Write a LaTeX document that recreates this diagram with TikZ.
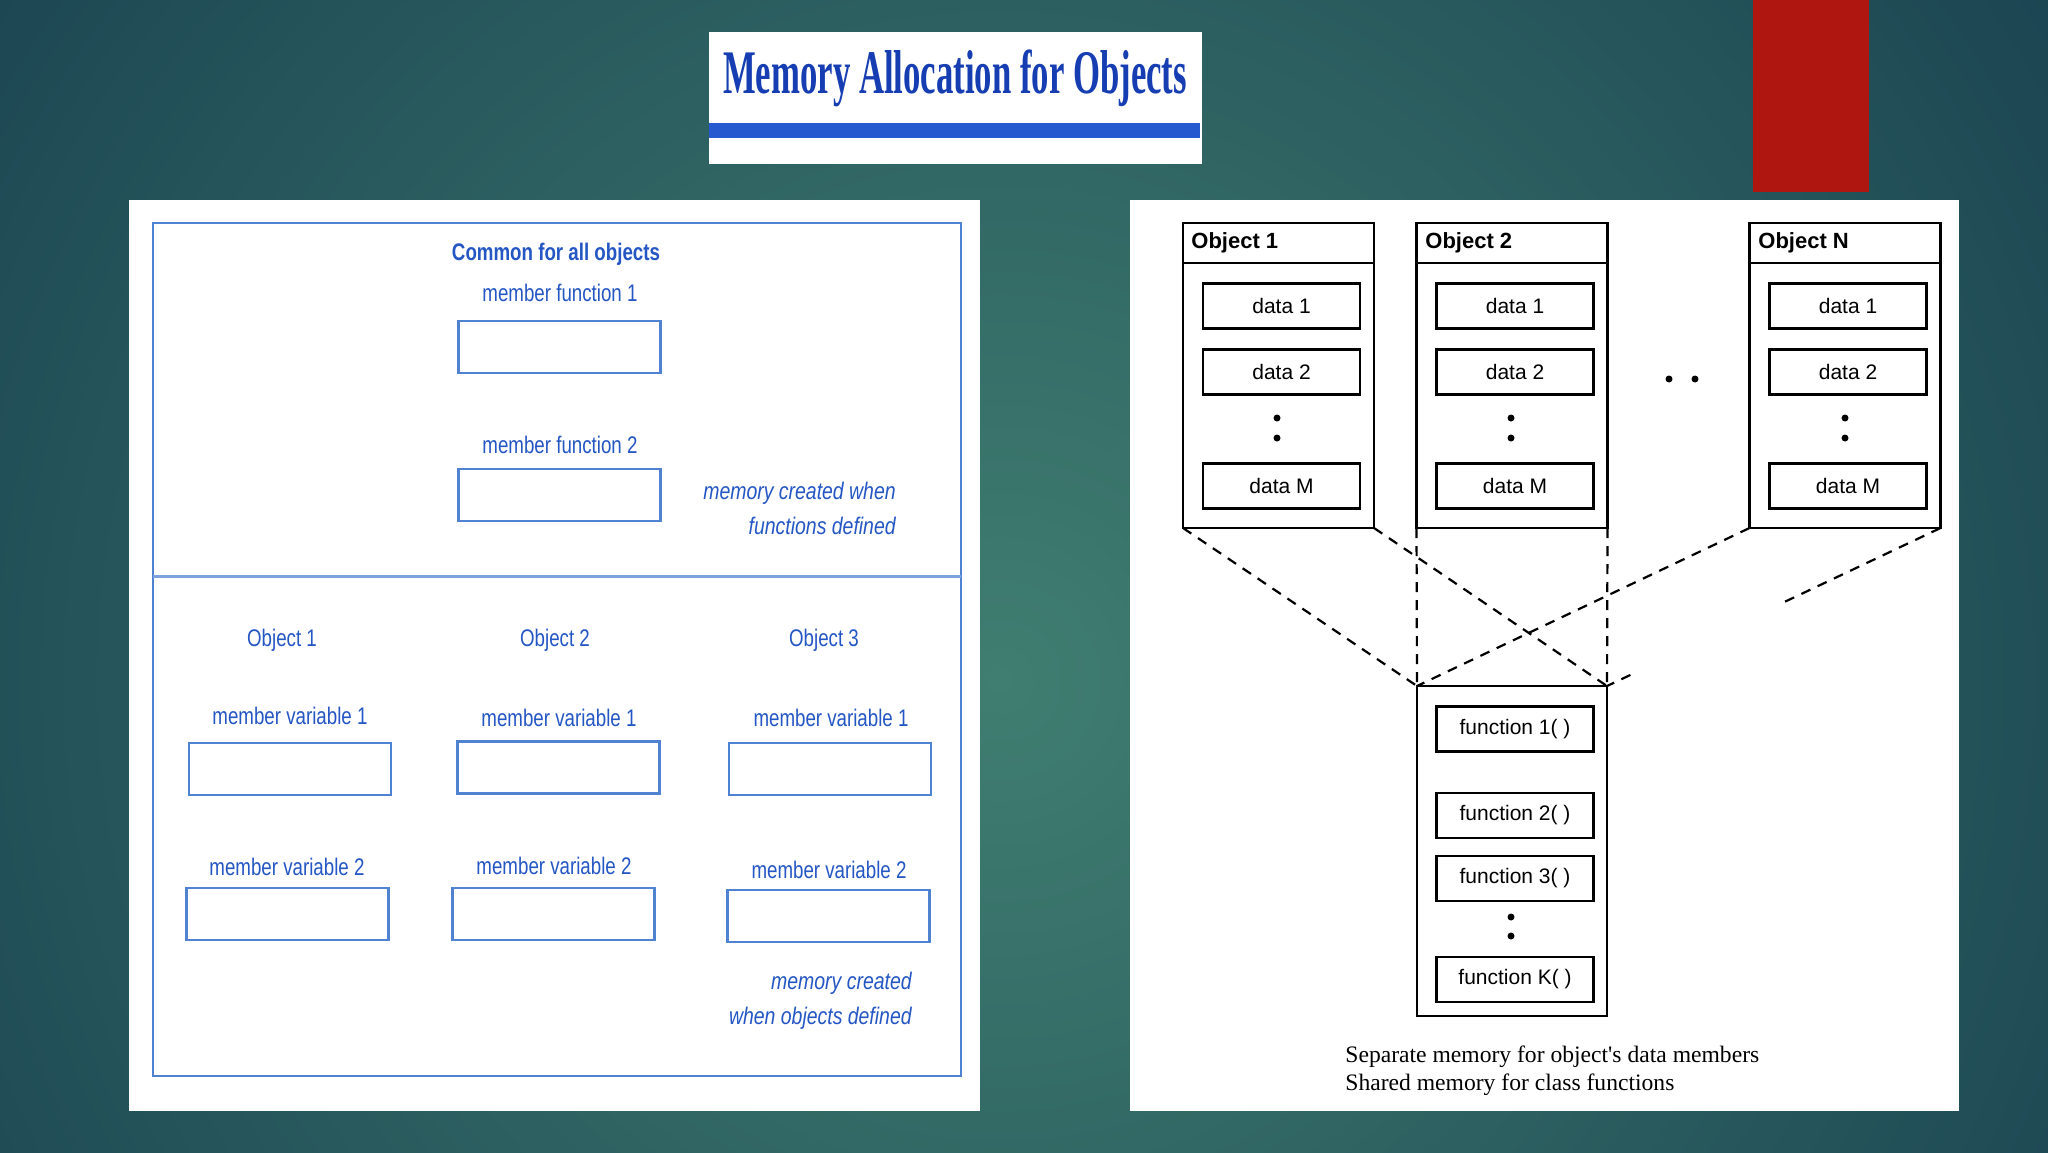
\documentclass[tikz,border=0pt]{standalone}
\usepackage{fontspec}
\setmainfont{Liberation Sans}
\newfontfamily\seriffont{Liberation Serif}
\usetikzlibrary{calc}
\newdimen\px \px=0.5pt
\definecolor{bgin}{RGB}{64,126,113}
\definecolor{bgout}{RGB}{20,58,76}
\definecolor{titleblue}{RGB}{22,62,178}
\definecolor{barblue}{RGB}{38,88,208}
\definecolor{tblue}{RGB}{36,86,196}
\definecolor{lblue}{RGB}{80,130,210}
\definecolor{redbar}{RGB}{176,22,16}
\tikzset{
 lbox/.style={draw=lblue, line width=1.1pt, minimum width=202\px, minimum height=52\px, inner sep=0pt, outer sep=0pt},
 llabel/.style={text=tblue, font=\fontsize{12}{14}\selectfont, xscale=0.78, inner sep=0pt},
 lnote/.style={text=tblue, font=\fontsize{12}{17.5}\selectfont\itshape, xscale=0.81, inner sep=0pt, align=right, anchor=east},
 objcol/.style={draw=black, line width=1.1pt, minimum width=191\px, minimum height=305\px, inner sep=0pt, outer sep=0pt},
 fcol/.style={draw=black, line width=1.1pt, minimum width=190\px, minimum height=330\px, inner sep=0pt, outer sep=0pt},
 rbox/.style={draw=black, line width=1.1pt, minimum width=157\px, minimum height=45\px, inner sep=0pt, outer sep=0pt, font=\fontsize{10.5}{12}\selectfont},
 objhead/.style={anchor=west, font=\bfseries\fontsize{11}{13}\selectfont, inner sep=0pt},
 dotmark/.style={circle, fill=black, minimum size=7\px, inner sep=0pt},
 dashline/.style={line width=1.1pt, dash pattern=on 5pt off 4pt},
}
\begin{document}
\begin{tikzpicture}[x=0.5pt, y=-0.5pt]
\useasboundingbox (0,0) rectangle (2048,1152);
% background
\begin{scope}
\clip (0,0) rectangle (2048,1152);
\fill[bgout] (0,0) rectangle (2048,1152);
\shade[inner color=bgin, outer color=bgout] (1000,680) circle (1500);
\end{scope}
% red bar
\fill[redbar] (1753,0) rectangle (1869,192);
% title
\fill[white] (709,32) rectangle (1202,164);
\fill[barblue] (709,123) rectangle (1200,138);
\node[anchor=base, font=\seriffont\bfseries\fontsize{31}{36}\selectfont, text=titleblue, xscale=0.56, inner sep=0pt] (title) at (955,93) {Memory Allocation for Objects};

% ---------------- left panel
\fill[white] (129,200) rectangle (980,1111);
\draw[lblue, line width=1pt] (153,223) rectangle (961,1076);
\draw[lblue!75, line width=1.5pt] (153,576) -- (961,576);
\node[llabel, font=\bfseries\fontsize{12}{14}\selectfont] (common) at (556,254) {Common for all objects};
\node[llabel] (mf1l) at (560,293) {member function 1};
\node[lbox] (mf1) at (559.5,347) {};
\node[llabel] (mf2l) at (560,445) {member function 2};
\node[lbox] (mf2) at (559.5,495) {};
\node[lnote] (note1) at (896,508) {memory created when\\functions defined};

\node[llabel] (ob1) at (282,640) {Object 1};
\node[llabel] (ob2) at (555,640) {Object 2};
\node[llabel] (ob3) at (824,640) {Object 3};

\node[llabel] (v11l) at (290,716) {member variable 1};
\node[llabel] (v21l) at (559,718) {member variable 1};
\node[llabel] (v31l) at (831,718) {member variable 1};
\node[lbox] (v11) at (290,769) {};
\node[lbox] (v21) at (558.5,767.5) {};
\node[lbox] (v31) at (830,769) {};

\node[llabel] (v12l) at (287,867) {member variable 2};
\node[llabel] (v22l) at (554,866) {member variable 2};
\node[llabel] (v32l) at (829,870) {member variable 2};
\node[lbox] (v12) at (287.5,914) {};
\node[lbox] (v22) at (553.5,914) {};
\node[lbox] (v32) at (828.5,916) {};
\node[lnote] (note2) at (912,1001) {memory created\\when objects defined};

% ---------------- right panel
\fill[white] (1130,200) rectangle (1959,1111);
\node[objcol] (o1) at (1278.5,375.5) {};
\node[objcol] (o2) at (1512,375.5) {};
\node[objcol] (oN) at (1845,375.5) {};
\foreach \o in {o1,o2,oN}{
  \draw[line width=1.1pt] ($(\o.north west)+(0,40)$) -- ($(\o.north east)+(0,40)$);
}
\node[objhead] (o1h) at (1191,243) {Object 1};
\node[objhead] (o2h) at (1425,243) {Object 2};
\node[objhead] (oNh) at (1758,243) {Object N};

\node[rbox] (o1d1) at (1281.5,306) {data 1};
\node[rbox] (o1d2) at (1281.5,372) {data 2};
\node[rbox] (o1dM) at (1281.5,486) {data M};
\node[rbox] (o2d1) at (1515,306) {data 1};
\node[rbox] (o2d2) at (1515,372) {data 2};
\node[rbox] (o2dM) at (1515,486) {data M};
\node[rbox] (oNd1) at (1848,306) {data 1};
\node[rbox] (oNd2) at (1848,372) {data 2};
\node[rbox] (oNdM) at (1848,486) {data M};

\node[dotmark] (p1a) at (1277,418) {};
\node[dotmark] (p1b) at (1277,438) {};
\node[dotmark] (p2a) at (1511,418) {};
\node[dotmark] (p2b) at (1511,438) {};
\node[dotmark] (pNa) at (1845,418) {};
\node[dotmark] (pNb) at (1845,438) {};
\node[dotmark] (h1) at (1669,379) {};
\node[dotmark] (h2) at (1695,379) {};

\node[fcol] (fb) at (1512,851) {};
\node[rbox] (f1) at (1515,729) {function 1( )};
\node[rbox] (f2) at (1515,815.5) {function 2( )};
\node[rbox] (f3) at (1515,878.5) {function 3( )};
\node[dotmark] (fpa) at (1511,917) {};
\node[dotmark] (fpb) at (1511,936) {};
\node[rbox] (fK) at (1515,979.5) {function K( )};

\draw[dashline] (o1.south west) -- (fb.north west);
\draw[dashline] (o1.south east) -- (fb.north east);
\draw[dashline] (o2.south west) -- (fb.north west);
\draw[dashline] (o2.south east) -- (fb.north east);
\draw[dashline] (oN.south west) -- (fb.north west);
\draw[dashline] (oN.south east) -- ($(oN.south east)!0.483!(fb.north east)$);
\draw[dashline] ($(oN.south east)!0.93!(fb.north east)$) -- (fb.north east);

\node[anchor=west, align=left, font=\seriffont\fontsize{11.8}{14}\selectfont, inner sep=0pt] (cap) at (1345,1071) {Separate memory for object's data members\\Shared memory for class functions};
\end{tikzpicture}
\end{document}
